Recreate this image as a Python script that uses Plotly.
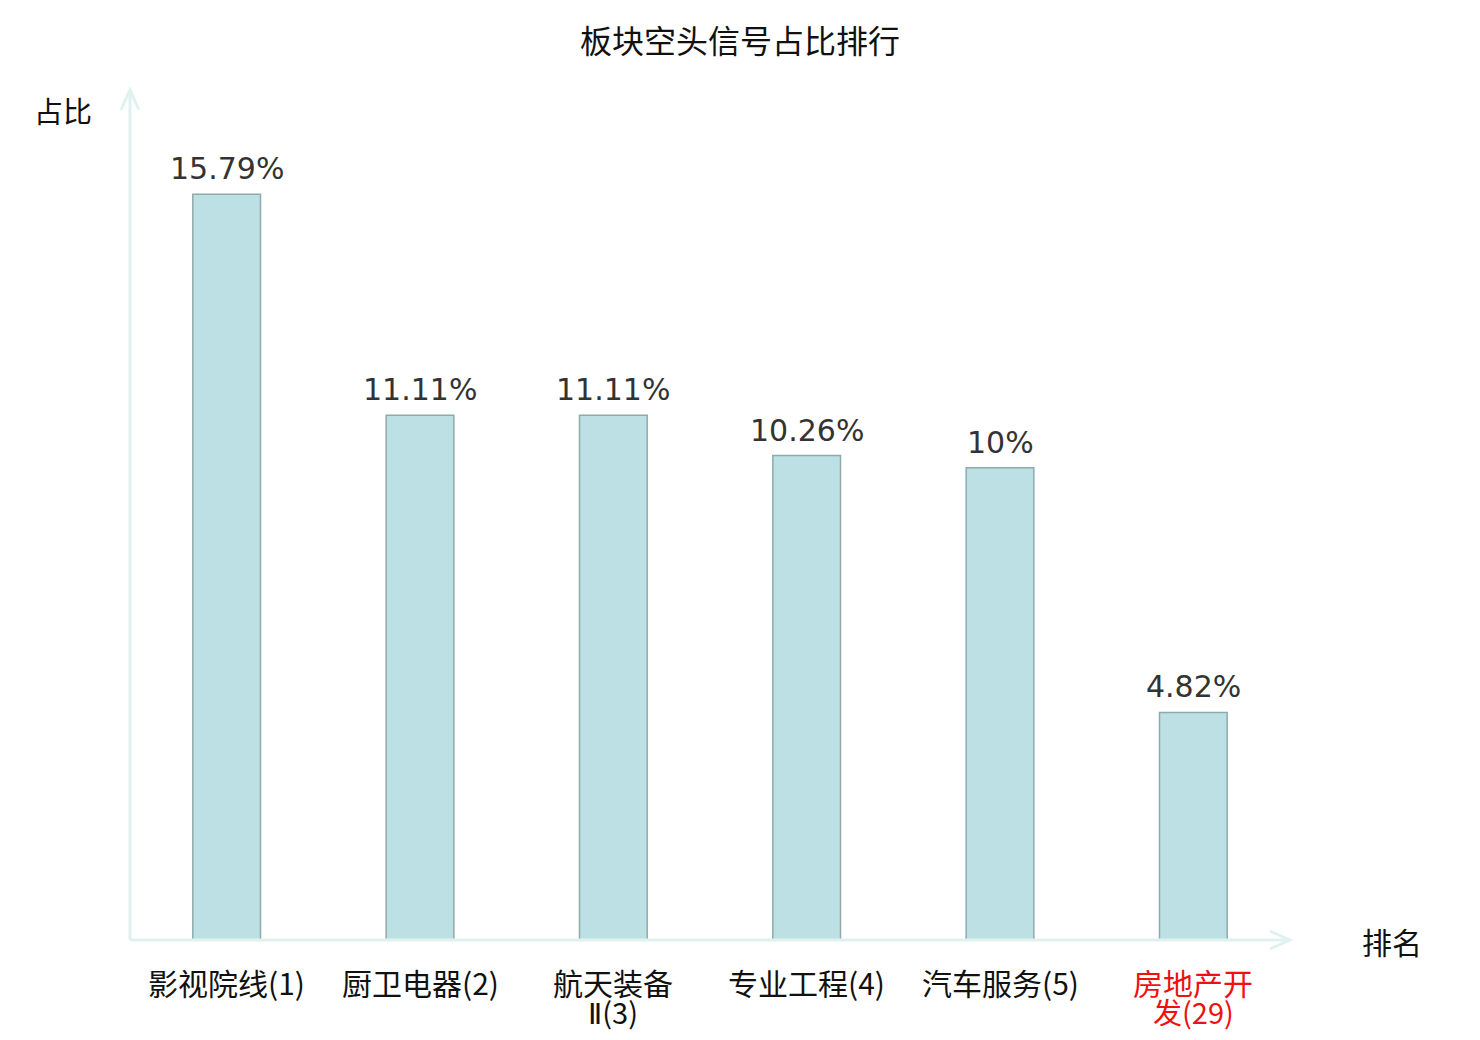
import plotly.graph_objects as go

# data
sectors = ["影视院线(1)", "厨卫电器(2)", "航天装备Ⅱ(3)", "专业工程(4)", "汽车服务(5)", "房地产开发(29)"]
label_line1 = ["影视院线(1)", "厨卫电器(2)", "航天装备", "专业工程(4)", "汽车服务(5)", "房地产开"]
label_line2 = ["", "", "Ⅱ(3)", "", "", "发(29)"]
label_colors = ["#111111"] * 5 + ["#ee1111"]
ratios = [15.79, 11.11, 11.11, 10.26, 10, 4.82]
value_text = [f"{v:g}%" for v in ratios]

AXIS_COLOR = "#dff2ef"
CJK = "Noto Sans CJK SC"

fig = go.Figure()
fig.add_trace(go.Bar(
    x=sectors,
    y=ratios,
    width=0.35,
    marker=dict(color="#bce0e3", line=dict(color="#8eaaaa", width=1.5)),
    cliponaxis=False,
    hoverinfo="x+y",
))

shapes = [
    # axis lines
    dict(type="line", xref="paper", yref="paper", x0=0, x1=1, y0=0, y1=0,
         line=dict(color=AXIS_COLOR, width=3)),
    dict(type="line", xref="paper", yref="paper", x0=0, x1=0, y0=0, y1=1,
         line=dict(color=AXIS_COLOR, width=3)),
    # arrow heads
    dict(type="path", xref="paper", yref="paper", xsizemode="pixel", ysizemode="pixel",
         xanchor=1, yanchor=0, path="M -20 9 L 0 0 L -20 -9",
         line=dict(color=AXIS_COLOR, width=3)),
    dict(type="path", xref="paper", yref="paper", xsizemode="pixel", ysizemode="pixel",
         xanchor=0, yanchor=1, path="M -9 -20 L 0 0 L 9 -20",
         line=dict(color=AXIS_COLOR, width=3)),
]

annotations = [
    dict(text="占比", xref="paper", yref="paper", x=0, y=1, xanchor="center", yanchor="middle",
         xshift=-67, yshift=-20, showarrow=False,
         font=dict(family=CJK, size=29, color="#111111")),
    dict(text="排名", xref="paper", yref="paper", x=1, y=0, xanchor="center", yanchor="middle",
         xshift=102, yshift=-1, showarrow=False,
         font=dict(family=CJK, size=30, color="#111111")),
]

# value labels above bars
for s, v, t in zip(sectors, ratios, value_text):
    annotations.append(dict(
        text=t, x=s, y=v, xref="x", yref="y", xanchor="center", yanchor="bottom",
        yshift=6, showarrow=False,
        font=dict(family="DejaVu Sans", size=30, color="#333333"),
    ))

# category labels, second line where the original wraps
for s, l1, l2, c in zip(sectors, label_line1, label_line2, label_colors):
    annotations.append(dict(
        text=l1, x=s, y=0, xref="x", yref="paper", xanchor="center", yanchor="middle",
        yshift=-42, showarrow=False, font=dict(family=CJK, size=30, color=c),
    ))
    if l2:
        l2 = l2.replace("Ⅱ", "<span style='font-family:DejaVu Sans'>Ⅱ</span>")
        annotations.append(dict(
            text=l2, x=s, y=0, xref="x", yref="paper", xanchor="center", yanchor="middle",
            yshift=-71, showarrow=False, font=dict(family=CJK, size=29, color=c),
        ))

fig.update_layout(
    width=1464,
    height=1024,
    title=dict(text="板块空头信号占比排行", x=0.5, xanchor="center", y=0.967, yanchor="middle",
               font=dict(family=CJK, size=32, color="#111111")),
    margin=dict(l=122, r=182, t=82, b=92),
    plot_bgcolor="white",
    paper_bgcolor="white",
    showlegend=False,
    shapes=shapes,
    annotations=annotations,
    xaxis=dict(
        showticklabels=False, ticks="",
        showline=False, showgrid=False, zeroline=False,
        range=[-0.5, 5.5],
    ),
    yaxis=dict(
        range=[0, 18],
        showticklabels=False, showline=False, showgrid=False, zeroline=False,
    ),
)

fig.write_html("out.html")
